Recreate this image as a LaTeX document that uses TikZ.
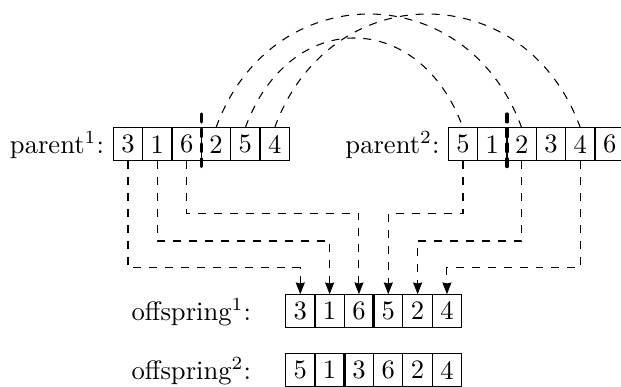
\documentclass[tikz,border=0pt]{standalone}
\usetikzlibrary{arrows.meta,calc}
\begin{document}
\begin{tikzpicture}[x=0.376pt,y=-0.376pt,
  cell/.style={draw,line width=0.4pt,minimum width=11.03pt,minimum height=12.5pt,inner sep=0pt,outer sep=0pt},
  lbl/.style={inner sep=0pt,outer sep=0pt},
  conn/.style={dashed,line width=0.4pt},
  arr/.style={conn,-{Stealth[length=4.4pt,width=3.4pt,inset=0.4pt]}},
  cutline/.style={line width=1.2pt,line cap=round,dash pattern=on 3pt off 2.6pt},
  divline/.style={line width=1.2pt}]
\useasboundingbox (0,0) rectangle (621,386);
% parent 1
\foreach \v/\n [count=\i from 0] in {3/a,1/b,6/c,2/d,5/e,4/f}
  \node[cell] (p1\n) at (128+\i*29.33,144.3) {\v};
% parent 2
\foreach \v/\n [count=\i from 0] in {5/a,1/b,2/c,3/d,4/e,6/f}
  \node[cell] (p2\n) at (463+\i*29.33,144.3) {\v};
% offspring 1
\foreach \v/\n [count=\i from 0] in {3/a,1/b,6/c,5/d,2/e,4/f}
  \node[cell] (o1\n) at (300.3+\i*29.33,310.8) {\v};
% offspring 2
\foreach \v/\n [count=\i from 0] in {5/a,1/b,3/c,6/d,2/e,4/f}
  \node[cell] (o2\n) at (300.3+\i*29.33,370) {\v};
% labels
\node[lbl,anchor=base east] (l1) at (104,153.3) {parent$^1$:};
\node[lbl,anchor=base east] (l2) at (439.5,153.3) {parent$^2$:};
\node[lbl,anchor=base west] (l3) at (131.7,320) {offspring$^1$:};
\node[lbl,anchor=base west] (l4) at (131.7,379.3) {offspring$^2$:};
% cut lines
\draw[cutline] ($(p1c.north east)+(0,-13.7)$) -- ($(p1c.south east)+(0,10.7)$);
\draw[cutline] ($(p2b.north east)+(0,-13.7)$) -- ($(p2b.south east)+(0,10.7)$);
\draw[divline] (o1c.north east) -- (o1c.south east);
\draw[divline] (o2b.north east) -- (o2b.south east);
% arcs
\draw[conn] (p1d.north) .. controls +(55.2,-151.6) and +(-55.2,-151.6) .. (p2c.north);
\draw[conn] (p1e.north) .. controls +(43.5,-119.6) and +(-43.5,-119.6) .. (p2a.north);
\draw[conn] (p1f.north) .. controls +(55.2,-151.6) and +(-55.2,-151.6) .. (p2e.north);
% connectors to offspring
\draw[arr] (p1a.south) |- (o1a.north |- 0,267.7) -- (o1a.north);
\draw[arr] (p1b.south) |- (o1b.north |- 0,241) -- (o1b.north);
\draw[arr] (p1c.south) |- (o1c.north |- 0,213.3) -- (o1c.north);
\draw[arr] (p2a.south) |- (o1d.north |- 0,213.3) -- (o1d.north);
\draw[arr] (p2c.south) |- (o1e.north |- 0,241) -- (o1e.north);
\draw[arr] (p2e.south) |- (o1f.north |- 0,267.7) -- (o1f.north);
\end{tikzpicture}
\end{document}
